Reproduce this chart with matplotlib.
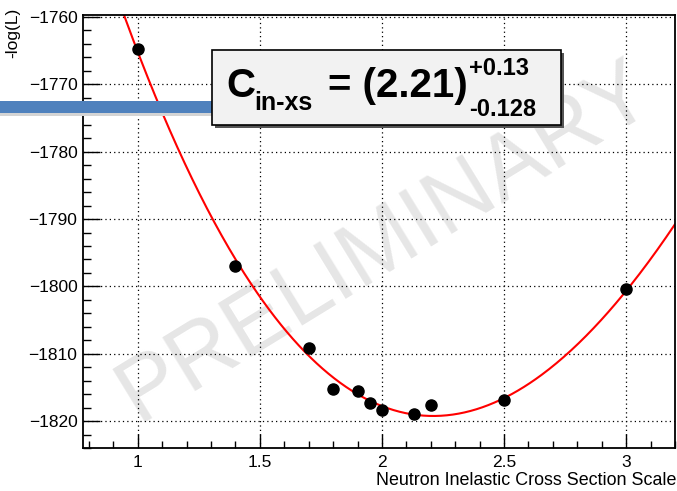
import numpy as np
import matplotlib
matplotlib.use("Agg")
import matplotlib.pyplot as plt
from matplotlib.patches import Rectangle

plt.rcParams['font.family'] = ['Liberation Sans', 'DejaVu Sans']

# Scan of the inelastic cross-section scale vs. negative log-likelihood
scale = [1.0, 1.4, 1.7, 1.8, 1.9, 1.95, 2.0, 2.13, 2.2, 2.5, 3.0]
neg_log_l = [-1764.8, -1797.0, -1809.1, -1815.2, -1815.5, -1817.3,
             -1818.4, -1819.0, -1817.6, -1816.9, -1800.4]

best_fit = 2.21
err_up = "+0.13"
err_down = "-0.128"

x_ticks = [1, 1.5, 2, 2.5, 3]
y_ticks = [-1820, -1810, -1800, -1790, -1780, -1770, -1760]

W, H = 677, 491
fig = plt.figure(figsize=(W / 100, H / 100), dpi=100)
ax = fig.add_axes([83 / W, 1 - 448 / H, (675 - 83) / W, (448 - 15) / H])

# Cubic about the best-fit point, least squares to the scan points
xs = np.asarray(scale)
ys = np.asarray(neg_log_l)
d = xs - best_fit
A = np.column_stack([np.ones_like(d), d ** 2, d ** 3])
coef, *_ = np.linalg.lstsq(A, ys, rcond=None)
xc = np.linspace(0.78, 3.2, 400)
dc = xc - best_fit
yc = coef[0] + coef[1] * dc ** 2 + coef[2] * dc ** 3

ax.plot(xc, yc, color='red', lw=1.5, zorder=3)
ax.plot(scale, neg_log_l, 'o', color='black', ms=8, zorder=4)

ax.set_xlim(0.776, 3.2)
ax.set_ylim(-1824.0, -1759.7)
ax.set_xticks(x_ticks)
ax.set_xticklabels([f"{t:g}" for t in x_ticks])
ax.set_yticks(y_ticks)
ax.set_yticklabels([f"\u2212{abs(t)}" for t in y_ticks])
ax.set_xticks(np.arange(0.8, 3.21, 0.1), minor=True)
ax.set_yticks(np.arange(-1824, -1759, 2), minor=True)
ax.tick_params(axis='x', which='major', direction='in', length=10, width=1, labelsize=12.5, pad=5)
ax.tick_params(axis='x', which='minor', direction='in', length=5, width=1)
ax.tick_params(axis='y', which='major', direction='in', length=12, width=1, labelsize=12.5, pad=4)
ax.tick_params(axis='y', which='minor', direction='in', length=6, width=1)
ax.grid(True, which='major', ls=(0, (1, 2.5)), color='black', lw=0.9, zorder=2)
ax.set_axisbelow(False)
for s in ax.spines.values():
    s.set_linewidth(1.3)
    s.set_zorder(5)

fig.text(676 / W, 1 - 489 / H, "Neutron Inelastic Cross Section Scale",
         ha='right', va='bottom', fontsize=12.9)
fig.text(13 / W, 1 - 8 / H, "-log(L)", rotation=90, ha='center', va='top', fontsize=12.5)

# Watermark, beneath the grid and curve
ax.text(0.51, 0.475, "PRELIMINARY", transform=ax.transAxes, rotation=31.5,
        ha='center', va='center', rotation_mode='anchor',
        fontsize=65, color='#e6e6e6', zorder=1)

# Pointer bar and result box
fig.patches.append(Rectangle((0, 1 - 116 / H), 220 / W, 12 / H, transform=fig.transFigure,
                             facecolor='#d4d4d4', edgecolor='none', zorder=5))
fig.patches.append(Rectangle((0, 1 - 113 / H), 218 / W, 12 / H, transform=fig.transFigure,
                             facecolor='#4f81bd', edgecolor='none', zorder=6))
fig.patches.append(Rectangle((215 / W, 1 - 128 / H), 349 / W, 75 / H, transform=fig.transFigure,
                             facecolor='#555555', edgecolor='none', zorder=7))
fig.patches.append(Rectangle((212 / W, 1 - 125 / H), 349 / W, 75 / H, transform=fig.transFigure,
                             facecolor='#f2f2f2', edgecolor='black', lw=1.2, zorder=8))

bold = dict(fontweight='bold', color='black', va='baseline', ha='left', zorder=9)
fig.text(226 / W, 1 - 97 / H, "C", fontsize=29, **bold)
fig.text(254 / W, 1 - 110 / H, "in-xs", fontsize=18, **bold)
fig.text(328 / W, 1 - 97 / H, f"= ({best_fit:.2f})", fontsize=29, **bold)
fig.text(469 / W, 1 - 75 / H, err_up, fontsize=17, **bold)
fig.text(469 / W, 1 - 116 / H, err_down, fontsize=17, **bold)

fig.savefig("out.png", dpi=100)
